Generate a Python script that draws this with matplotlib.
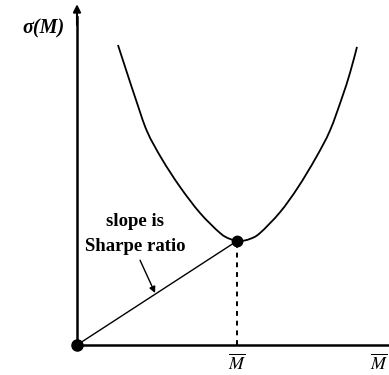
import matplotlib.pyplot as plt
from matplotlib.path import Path
from matplotlib.patches import PathPatch
import numpy as np

# 曲線上の点 (M, sigma(M)) 図から読み取り
m_curve = [2.56, 3.13, 3.69, 4.38, 5.31, 6.44, 7.69, 8.94, 9.56, 10.19,
           10.81, 11.44, 12.69, 13.81, 14.94, 15.81, 16.56, 17.06, 17.5]
s_curve = [18.75, 17.0, 15.31, 13.35, 11.62, 9.88, 8.25, 7.0, 6.63, 6.5,
           6.63, 7.0, 8.3, 9.85, 11.72, 13.4, 15.45, 17.0, 18.63]

# 接点
m_bar = 10.0
s_tan = 6.5

W, H = 389, 375
fig = plt.figure(figsize=(W / 100, H / 100), dpi=100)
fig.patch.set_facecolor('white')

# 原点は画素 (77, 345)、1単位 = 16px
ox, oy, u = 77, 345, 16.0
ax = fig.add_axes([ox / W, (H - oy) / H, (W - ox) / W, oy / H])
ax.set_xlim(0, (W - ox) / u)
ax.set_ylim(0, oy / u)
ax.axis('off')

serif = 'Liberation Serif'

# 軸
ax.plot([0, 25], [0, 0], color='black', lw=1.8, clip_on=False)
ax.plot([0, 0], [0, 20.5], color='black', lw=1.8, clip_on=False)
ax.annotate('', xy=(0, 21.3), xytext=(0, 20.0), annotation_clip=False,
            arrowprops=dict(arrowstyle='-|>', color='black', lw=1.5,
                            mutation_scale=11, shrinkA=0, shrinkB=0))

# 曲線 (点を滑らかにつなぐ: Catmull-Rom -> Bezier)
pts = np.column_stack([m_curve, s_curve])
verts = [pts[0]]
codes = [Path.MOVETO]
for i in range(len(pts) - 1):
    p0 = pts[max(i - 1, 0)]
    p1 = pts[i]
    p2 = pts[i + 1]
    p3 = pts[min(i + 2, len(pts) - 1)]
    verts += [p1 + (p2 - p0) / 6, p2 - (p3 - p1) / 6, p2]
    codes += [Path.CURVE4] * 3
ax.add_patch(PathPatch(Path(verts, codes), facecolor='none',
                       edgecolor='black', lw=1.3))

# 原点からの直線
ax.plot([0, m_bar], [0, s_tan], color='black', lw=1.0)

# 破線
ax.plot([m_bar, m_bar], [0, s_tan], color='black', lw=1.4, linestyle=(0, (2.5, 2.5)))

# 点
ax.plot([0], [0], 'o', color='black', markersize=8, clip_on=False)
ax.plot([m_bar], [s_tan], 'o', color='black', markersize=7.5)

# ラベル
ax.text(3.63, 7.69, 'slope is', ha='center', va='center',
        family=serif, fontweight='bold', fontsize=13.5)
ax.text(3.63, 6.13, 'Sharpe ratio', ha='center', va='center',
        family=serif, fontweight='bold', fontsize=13.5)
ax.annotate('', xy=(4.88, 3.25), xytext=(3.94, 5.3),
            arrowprops=dict(arrowstyle='-|>', color='black', lw=1.0,
                            mutation_scale=9, shrinkA=0, shrinkB=0))

ax.text(-2.06, 19.81, 'σ(M)', ha='center', va='center', family=serif,
        fontweight='bold', fontstyle='italic', fontsize=14.5)
ax.text(m_bar, -0.55, r'$\overline{M}$', ha='center', va='top', fontsize=13,
        math_fontfamily='stix')
ax.text(19.44, -0.55, r'$\overline{M}$', ha='right', va='top', fontsize=13,
        math_fontfamily='stix')

plt.savefig('out.png', dpi=100)
